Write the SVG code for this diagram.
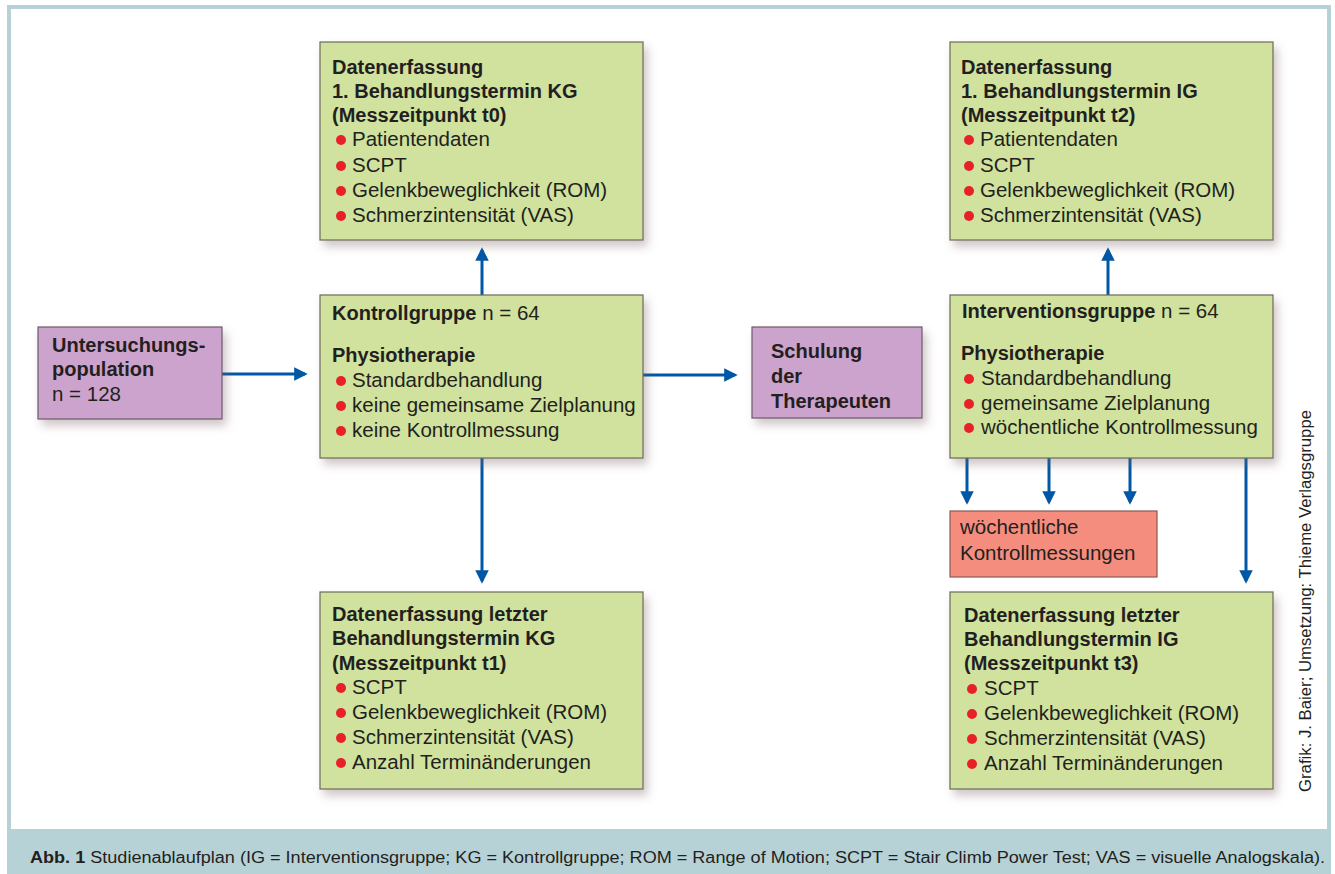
<svg xmlns="http://www.w3.org/2000/svg" width="1335" height="874" viewBox="0 0 1335 874">
<style>
.t{font-family:"Liberation Sans",Arial,sans-serif;font-size:20.5px;fill:#231f20}
.b{font-weight:bold;font-size:20px}
.g{fill:#d0e29d;stroke:#6b6b5a;stroke-width:1.2}
.p{fill:#cca3cc;stroke:#6b5a6b;stroke-width:1.2}
.r{fill:#f48d7d;stroke:#8a5a50;stroke-width:1.2}
.dot{fill:#e8202a}
.c{stroke:#0057a6;stroke-width:3;fill:none;marker-end:url(#ah)}
</style>
<defs>
<marker id="ah" viewBox="0 0 10 10" refX="8" refY="5" markerWidth="4.5" markerHeight="4.5" orient="auto" markerUnits="strokeWidth">
<path d="M0,0 L10,5 L0,10 z" fill="#0057a6"/>
</marker>
<filter id="sh" x="-10%" y="-10%" width="130%" height="140%">
<feDropShadow dx="4" dy="6" stdDeviation="5" flood-color="#7a5a60" flood-opacity="0.35"/>
</filter>
</defs>
<rect x="7" y="5" width="1324" height="869" fill="#b7d2d7"/>
<rect x="11" y="9" width="1316" height="820" fill="#ffffff"/>

<g id="connectors">
<path class="c" d="M222,374 H305"/>
<path class="c" d="M482,295 V250"/>
<path class="c" d="M482,458 V581"/>
<path class="c" d="M643,375 H735"/>
<path class="c" d="M1108,295 V250"/>
<path class="c" d="M967,458 V502"/>
<path class="c" d="M1049,458 V502"/>
<path class="c" d="M1130,458 V502"/>
<path class="c" d="M1246,458 V581"/>
</g>

<g id="kg-t0">
<rect class="g" x="320" y="42" width="323" height="198" filter="url(#sh)"/>
<text class="t b" x="332" y="74">Datenerfassung</text>
<text class="t b" x="332" y="98">1. Behandlungstermin KG</text>
<text class="t b" x="332" y="122">(Messzeitpunkt t0)</text>
<circle class="dot" cx="341" cy="140" r="5"/><text class="t" x="352" y="146">Patientendaten</text>
<circle class="dot" cx="341" cy="166" r="5"/><text class="t" x="352" y="172">SCPT</text>
<circle class="dot" cx="341" cy="191" r="5"/><text class="t" x="352" y="197">Gelenkbeweglichkeit (ROM)</text>
<circle class="dot" cx="341" cy="216" r="5"/><text class="t" x="352" y="222">Schmerzintensität (VAS)</text>
</g>

<g id="population">
<rect class="p" x="38" y="327" width="184" height="92" filter="url(#sh)"/>
<text class="t b" x="52" y="352">Untersuchungs-</text>
<text class="t b" x="52" y="376">population</text>
<text class="t" x="52" y="401">n = 128</text>
</g>

<g id="kg">
<rect class="g" x="320" y="295" width="323" height="163" filter="url(#sh)"/>
<text class="t" x="332" y="320"><tspan class="b">Kontrollgruppe</tspan> n = 64</text>
<text class="t b" x="332" y="362">Physiotherapie</text>
<circle class="dot" cx="341" cy="381" r="5"/><text class="t" x="352" y="387">Standardbehandlung</text>
<circle class="dot" cx="341" cy="406" r="5"/><text class="t" x="352" y="412">keine gemeinsame Zielplanung</text>
<circle class="dot" cx="341" cy="431" r="5"/><text class="t" x="352" y="437">keine Kontrollmessung</text>
</g>

<g id="kg-t1">
<rect class="g" x="320" y="592" width="323" height="197" filter="url(#sh)"/>
<text class="t b" x="332" y="621">Datenerfassung letzter</text>
<text class="t b" x="332" y="645">Behandlungstermin KG</text>
<text class="t b" x="332" y="670">(Messzeitpunkt t1)</text>
<circle class="dot" cx="341" cy="688" r="5"/><text class="t" x="352" y="694">SCPT</text>
<circle class="dot" cx="341" cy="713" r="5"/><text class="t" x="352" y="719">Gelenkbeweglichkeit (ROM)</text>
<circle class="dot" cx="341" cy="738" r="5"/><text class="t" x="352" y="744">Schmerzintensität (VAS)</text>
<circle class="dot" cx="341" cy="763" r="5"/><text class="t" x="352" y="769">Anzahl Terminänderungen</text>
</g>

<g id="schulung">
<rect class="p" x="752" y="327" width="170" height="91" filter="url(#sh)"/>
<text class="t b" x="771" y="358">Schulung</text>
<text class="t b" x="771" y="383">der</text>
<text class="t b" x="771" y="408">Therapeuten</text>
</g>

<g id="ig-t2">
<rect class="g" x="950" y="42" width="323" height="198" filter="url(#sh)"/>
<text class="t b" x="961" y="74">Datenerfassung</text>
<text class="t b" x="961" y="98">1. Behandlungstermin IG</text>
<text class="t b" x="961" y="122">(Messzeitpunkt t2)</text>
<circle class="dot" cx="969" cy="140" r="5"/><text class="t" x="980" y="146">Patientendaten</text>
<circle class="dot" cx="969" cy="166" r="5"/><text class="t" x="980" y="172">SCPT</text>
<circle class="dot" cx="969" cy="191" r="5"/><text class="t" x="980" y="197">Gelenkbeweglichkeit (ROM)</text>
<circle class="dot" cx="969" cy="216" r="5"/><text class="t" x="980" y="222">Schmerzintensität (VAS)</text>
</g>

<g id="ig">
<rect class="g" x="950" y="295" width="323" height="163" filter="url(#sh)"/>
<text class="t" x="962" y="318"><tspan class="b">Interventionsgruppe</tspan> n = 64</text>
<text class="t b" x="961" y="360">Physiotherapie</text>
<circle class="dot" cx="969" cy="379" r="5"/><text class="t" x="981" y="385">Standardbehandlung</text>
<circle class="dot" cx="969" cy="404" r="5"/><text class="t" x="981" y="410">gemeinsame Zielplanung</text>
<circle class="dot" cx="969" cy="428" r="5"/><text class="t" x="981" y="434">wöchentliche Kontrollmessung</text>
</g>

<g id="weekly">
<rect class="r" x="950" y="511" width="207" height="66"/>
<text class="t" x="960" y="534">wöchentliche</text>
<text class="t" x="960" y="560">Kontrollmessungen</text>
</g>

<g id="ig-t3">
<rect class="g" x="950" y="592" width="323" height="197" filter="url(#sh)"/>
<text class="t b" x="964" y="622">Datenerfassung letzter</text>
<text class="t b" x="964" y="646">Behandlungstermin IG</text>
<text class="t b" x="964" y="670">(Messzeitpunkt t3)</text>
<circle class="dot" cx="972" cy="689" r="5"/><text class="t" x="984" y="695">SCPT</text>
<circle class="dot" cx="972" cy="714" r="5"/><text class="t" x="984" y="720">Gelenkbeweglichkeit (ROM)</text>
<circle class="dot" cx="972" cy="739" r="5"/><text class="t" x="984" y="745">Schmerzintensität (VAS)</text>
<circle class="dot" cx="972" cy="764" r="5"/><text class="t" x="984" y="770">Anzahl Terminänderungen</text>
</g>

<text class="t" fill="#3a3a3a" transform="translate(1311,792) rotate(-90)" textLength="382" lengthAdjust="spacingAndGlyphs" style="font-size:16px">Grafik: J. Baier; Umsetzung: Thieme Verlagsgruppe</text>

<text class="t" x="30" y="863" style="font-size:16px" textLength="1295" lengthAdjust="spacingAndGlyphs"><tspan class="b" style="font-size:16px">Abb. 1</tspan>  Studienablaufplan (IG = Interventionsgruppe; KG = Kontrollgruppe; ROM = Range of Motion; SCPT = Stair Climb Power Test; VAS = visuelle Analogskala).</text>
</svg>
